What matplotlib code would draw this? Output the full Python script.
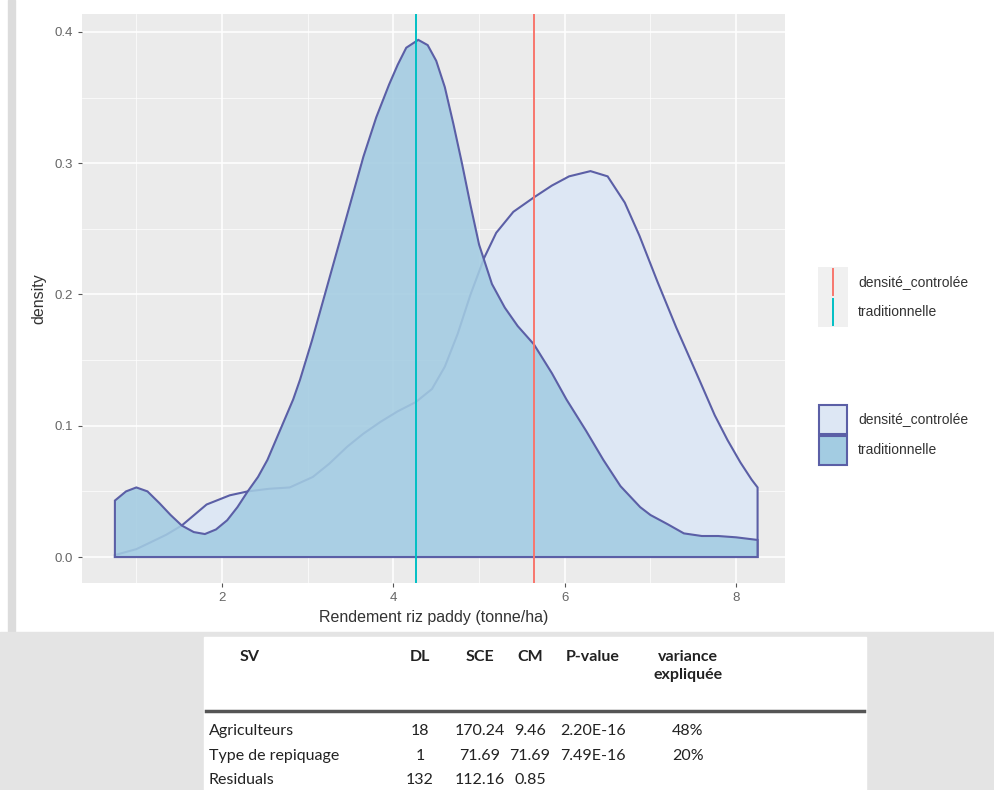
import numpy as np
import matplotlib.pyplot as plt
from matplotlib.patches import Rectangle
from matplotlib.lines import Line2D

plt.rcParams['font.family'] = ['Liberation Sans', 'DejaVu Sans']

# density curves (rendement, density)
x_ctrl = [0.75, 1.0, 1.16, 1.35, 1.53, 1.82, 2.09, 2.30, 2.55, 2.79, 3.06, 3.25, 3.46,
          3.65, 3.85, 4.05, 4.26, 4.45, 4.6, 4.75, 4.9, 5.06, 5.2, 5.4, 5.64, 5.85, 6.05,
          6.3, 6.5, 6.7, 6.87, 7.08, 7.3, 7.57, 7.75, 7.9, 8.05, 8.18, 8.25]
d_ctrl = [0.0015, 0.006, 0.011, 0.017, 0.024, 0.040, 0.047, 0.050, 0.052, 0.053, 0.061,
          0.071, 0.084, 0.094, 0.103, 0.111, 0.118, 0.128, 0.145, 0.17, 0.2, 0.228,
          0.247, 0.263, 0.274, 0.283, 0.29, 0.294, 0.29, 0.27, 0.245, 0.21, 0.175, 0.135,
          0.108, 0.089, 0.072, 0.059, 0.053]

x_trad = [0.75, 0.88, 1.0, 1.13, 1.27, 1.4, 1.53, 1.67, 1.80, 1.93, 2.06, 2.18, 2.30,
          2.42, 2.53, 2.68, 2.83, 2.91, 3.05, 3.2, 3.35, 3.5, 3.65, 3.8, 3.95, 4.05,
          4.15, 4.29, 4.4, 4.5, 4.6, 4.7, 4.8, 4.9, 5.0, 5.15, 5.3, 5.45, 5.64, 5.85,
          6.02, 6.25, 6.45, 6.65, 6.88, 7.0, 7.2, 7.39, 7.6, 7.79, 8.0, 8.25]
d_trad = [0.043, 0.05, 0.053, 0.05, 0.041, 0.032, 0.024, 0.019, 0.0175, 0.021, 0.028,
          0.038, 0.050, 0.061, 0.074, 0.097, 0.12, 0.135, 0.165, 0.2, 0.235, 0.27,
          0.305, 0.335, 0.36, 0.375, 0.388, 0.394, 0.39, 0.378, 0.358, 0.33, 0.3,
          0.268, 0.238, 0.208, 0.19, 0.176, 0.162, 0.14, 0.12, 0.096, 0.074, 0.054,
          0.038, 0.032, 0.025, 0.018, 0.016, 0.016, 0.015, 0.013]

moyennes = {"densité_controlée": 5.64, "traditionnelle": 4.26}
groupes = ["densité_controlée", "traditionnelle"]

# anova table
tab_header = ["SV", "DL", "SCE", "CM", "P-value", "variance\nexpliquée"]
tab_sv = ["Agriculteurs", "Type de repiquage", "Residuals"]
tab_dl = ["18", "1", "132"]
tab_sce = ["170.24", "71.69", "112.16"]
tab_cm = ["9.46", "71.69", "0.85"]
tab_p = ["2.20E-16", "7.49E-16", ""]
tab_var = ["48%", "20%", ""]

outline = "#5b5fa6"
fill_ctrl = "#dde7f4"
fill_trad = "#a3cce2"
line_cols = {"densité_controlée": "#f8766d", "traditionnelle": "#00bfc4"}


def fx(px):
    return px / 995


def fy(py):
    return 1 - py / 790


fig = plt.figure(figsize=(9.95, 7.9), dpi=100)
fig.patch.set_facecolor("white")

# slide background bits around the picture
fig.add_artist(Rectangle((fx(8), fy(632)), 7 / 995, 632 / 790, transform=fig.transFigure,
                         color="#dcdcdc", zorder=0))
fig.add_artist(Rectangle((0, 0), 1, fy(632), transform=fig.transFigure,
                         color="#e4e4e4", zorder=0))
fig.add_artist(Rectangle((fx(204), 0), 662 / 995, fy(637), transform=fig.transFigure,
                         color="white", zorder=1))

ax = fig.add_axes([fx(82), fy(583), 703 / 995, 569 / 790])
ax.set_facecolor("#ebebeb")
ax.set_xlim(0.366, 8.57)
ax.set_ylim(-0.0198, 0.4137)
for s in ax.spines.values():
    s.set_visible(False)

ax.set_xticks([2, 4, 6, 8])
ax.set_yticks([0.0, 0.1, 0.2, 0.3, 0.4])
ax.set_yticklabels(["0.0", "0.1", "0.2", "0.3", "0.4"])
ax.set_xticks([1, 3, 5, 7], minor=True)
ax.set_yticks([0.05, 0.15, 0.25, 0.35], minor=True)
ax.grid(which="major", color="white", lw=1.1)
ax.grid(which="minor", color="white", lw=0.5)
ax.set_axisbelow(True)
ax.tick_params(which="major", colors="#555555", labelcolor="#666666", labelsize=9.5,
               length=3, width=0.8)
ax.tick_params(which="minor", length=0)
ax.set_xlabel("Rendement riz paddy (tonne/ha)", fontsize=11.5, color="#333333", labelpad=4)
ax.set_ylabel("density", fontsize=11.5, color="#333333", labelpad=6)

# controlée first, trad over it
ax.fill([x_ctrl[0]] + x_ctrl + [x_ctrl[-1]], [0] + d_ctrl + [0],
        facecolor=fill_ctrl, edgecolor=outline, lw=1.5, zorder=2)
ax.fill([x_trad[0]] + x_trad + [x_trad[-1]], [0] + d_trad + [0],
        facecolor=fill_trad, edgecolor="none", alpha=0.88, zorder=3)
ax.fill([x_trad[0]] + x_trad + [x_trad[-1]], [0] + d_trad + [0],
        facecolor="none", edgecolor=outline, lw=1.5, zorder=4)

for g in groupes:
    ax.axvline(moyennes[g], color=line_cols[g], lw=1.4, zorder=5)

# legends, ggplot style, placed in figure pixels
key_x0, key_w = 818, 30
for i, g in enumerate(groupes):
    top = 267 + i * 30
    fig.add_artist(Rectangle((fx(key_x0), fy(top + 30)), key_w / 995, 30 / 790,
                             transform=fig.transFigure, facecolor="#f0f0f0",
                             edgecolor="none"))
    fig.add_artist(Line2D([fx(key_x0 + key_w / 2)] * 2, [fy(top + 2), fy(top + 28)],
                          transform=fig.transFigure, color=line_cols[g], lw=1.4))
    fig.text(fx(858), fy(top + 15), g, ha="left", va="center", fontsize=10,
             color="#333333")
for i, g in enumerate(groupes):
    top = 404 + i * 31
    fc = fill_ctrl if g == "densité_controlée" else fill_trad
    fig.add_artist(Rectangle((fx(key_x0 + 1), fy(top + 30)), (key_w - 2) / 995, 29 / 790,
                             transform=fig.transFigure, facecolor=fc,
                             edgecolor=outline, lw=1.5))
    fig.text(fx(858), fy(top + 15), g, ha="left", va="center", fontsize=10,
             color="#333333")

# table
tf = "Lato"
col_x = [250, 420, 480, 530, 593, 688]

for i, h in enumerate(tab_header):
    fig.text(fx(col_x[i]), fy(650), h, ha="center", va="top", fontsize=11.5,
             fontweight="bold", family=tf, color="#222222", linespacing=1.35, zorder=3)
fig.add_artist(Line2D([fx(206), fx(864)], [fy(711), fy(711)], color="#555555", lw=2.5,
                      transform=fig.transFigure, zorder=3))
row_y = [731, 756, 780]
for r in range(3):
    y = fy(row_y[r])
    fig.text(fx(209), y, tab_sv[r], ha="left", va="center", fontsize=11.5, family=tf,
             color="#222222", zorder=3)
    cells = [tab_dl[r], tab_sce[r], tab_cm[r], tab_p[r], tab_var[r]]
    for c, val in enumerate(cells):
        fig.text(fx(col_x[c + 1]), y, val, ha="center", va="center", fontsize=11.5,
                 family=tf, color="#222222", zorder=3)

plt.savefig("out.png", dpi=100)
